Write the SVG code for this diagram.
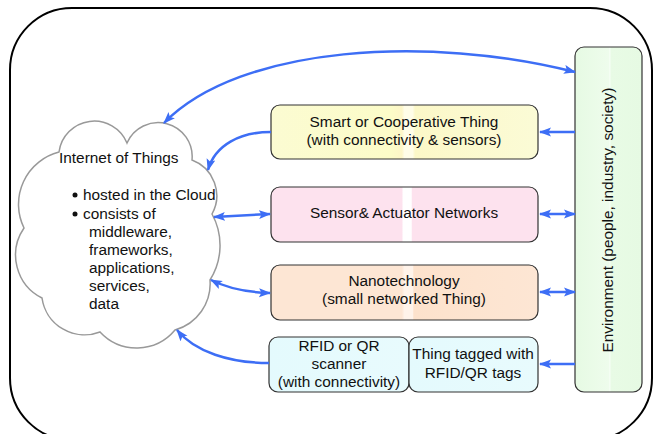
<svg xmlns="http://www.w3.org/2000/svg" width="659" height="434" viewBox="0 0 659 434">
<defs>
<style>
text{font-family:"Liberation Sans",Arial,sans-serif;font-size:15.4px;fill:#111}
.box{stroke:#333;stroke-width:1.2}
.conn{fill:none;stroke:#3d6ef5;stroke-width:2.5}
</style>
<marker id="ah" markerUnits="userSpaceOnUse" viewBox="0 0 12 10" refX="11" refY="5" markerWidth="12" markerHeight="10" orient="auto-start-reverse">
<path d="M0,0.5 L12,5 L0,9.5 L2.5,5 z" fill="#3d6ef5"/>
</marker>
<linearGradient id="gY" x1="0" x2="1" y1="0" y2="0">
<stop offset="0" stop-color="#fbfbd2"/><stop offset="0.45" stop-color="#fcfcc8"/><stop offset="0.49" stop-color="#fdf6c8"/><stop offset="0.5" stop-color="#fffde8"/><stop offset="0.53" stop-color="#fffde8"/><stop offset="0.54" stop-color="#fcf8c8"/><stop offset="1" stop-color="#fbfbd6"/>
</linearGradient>
<linearGradient id="gP" x1="0" x2="1" y1="0" y2="0">
<stop offset="0" stop-color="#fde2ee"/><stop offset="0.49" stop-color="#fde2ee"/><stop offset="0.495" stop-color="#ffffff"/><stop offset="0.525" stop-color="#ffffff"/><stop offset="0.53" stop-color="#fde2ee"/><stop offset="1" stop-color="#fde2ee"/>
</linearGradient>
<linearGradient id="gO" x1="0" x2="1" y1="0" y2="0">
<stop offset="0" stop-color="#fde6d4"/><stop offset="0.49" stop-color="#fde6d4"/><stop offset="0.5" stop-color="#fff3ea"/><stop offset="0.53" stop-color="#fff3ea"/><stop offset="0.535" stop-color="#fde2cc"/><stop offset="1" stop-color="#fde6d4"/>
</linearGradient>
<linearGradient id="gC" x1="0" x2="1" y1="0" y2="0">
<stop offset="0" stop-color="#e4fafd"/><stop offset="1" stop-color="#e8fbfd"/>
</linearGradient>
<linearGradient id="gG" x1="0" x2="1" y1="0" y2="0">
<stop offset="0" stop-color="#e6fae3"/><stop offset="0.5" stop-color="#eefcec"/><stop offset="0.52" stop-color="#f6fef5"/><stop offset="0.54" stop-color="#e8fbe5"/><stop offset="1" stop-color="#e6fae3"/>
</linearGradient>
</defs>
<rect width="659" height="434" fill="#ffffff"/>
<rect x="10" y="8" width="642" height="432" rx="62" ry="62" fill="none" stroke="#000" stroke-width="2"/>

<g id="cloud">
<path d="M59,152 A35.5,35.5 0 0 1 127,143 A34,34 0 0 1 192,160 A38,38 0 0 1 212,214 A65,65 0 0 1 210,280 A48,48 0 0 1 175,330 A50,50 0 0 1 100,332 A43,43 0 0 1 42,298 A48,48 0 0 1 24,228 A54,54 0 0 1 59,152 z" fill="#fff" stroke="#999" stroke-width="1.5"/>
<text x="59" y="163">Internet of Things</text>
<circle cx="75" cy="195" r="2.5" fill="#111"/>
<text x="83" y="200">hosted in the Cloud</text>
<circle cx="75" cy="214" r="2.5" fill="#111"/>
<text x="83" y="219">consists of</text>
<text x="89" y="237">middleware,</text>
<text x="89" y="255">frameworks,</text>
<text x="89" y="273">applications,</text>
<text x="89" y="291">services,</text>
<text x="89" y="309">data</text>
</g>

<g id="smart">
<rect class="box" x="271" y="105" width="267" height="54" rx="9" fill="url(#gY)"/>
<text x="404" y="127" text-anchor="middle">Smart or Cooperative Thing</text>
<text x="404" y="145" text-anchor="middle">(with connectivity &amp; sensors)</text>
</g>

<g id="sensor">
<rect class="box" x="271" y="187" width="267" height="55" rx="9" fill="url(#gP)"/>
<text x="404" y="218" text-anchor="middle">Sensor&amp; Actuator Networks</text>
</g>

<g id="nano">
<rect class="box" x="271" y="265" width="267" height="55" rx="9" fill="url(#gO)"/>
<text x="404" y="286" text-anchor="middle">Nanotechnology</text>
<text x="404" y="304" text-anchor="middle">(small networked Thing)</text>
</g>

<g id="scanner">
<rect class="box" x="269" y="337" width="140" height="55" rx="9" fill="url(#gC)"/>
<text x="339" y="351" text-anchor="middle">RFID or QR</text>
<text x="339" y="369" text-anchor="middle">scanner</text>
<text x="339" y="387" text-anchor="middle">(with connectivity)</text>
</g>

<g id="tagged">
<rect class="box" x="409" y="337" width="129" height="55" rx="9" fill="url(#gC)"/>
<text x="473" y="359" text-anchor="middle">Thing tagged with</text>
<text x="473" y="378" text-anchor="middle">RFID/QR tags</text>
</g>

<g id="environment">
<rect class="box" x="575" y="47" width="67" height="345" rx="9" fill="url(#gG)"/>
<text x="613" y="220" text-anchor="middle" transform="rotate(-90 613 220)">Environment (people, industry, society)</text>
</g>

<g id="connectors">
<path class="conn" d="M164,123 C240,45 430,35 575,72" marker-start="url(#ah)" marker-end="url(#ah)"/>
<path class="conn" d="M271,132 C240,132 215,145 208,170" marker-end="url(#ah)"/>
<path class="conn" d="M575,132 L540,132" marker-end="url(#ah)"/>
<path class="conn" d="M214,217 L270,214" marker-start="url(#ah)" marker-end="url(#ah)"/>
<path class="conn" d="M540,214 L575,214" marker-start="url(#ah)" marker-end="url(#ah)"/>
<path class="conn" d="M211,280 Q235,292 270,293" marker-start="url(#ah)" marker-end="url(#ah)"/>
<path class="conn" d="M540,292 L575,292" marker-start="url(#ah)" marker-end="url(#ah)"/>
<path class="conn" d="M269,363 C230,363 195,352 177,330" marker-end="url(#ah)"/>
<path class="conn" d="M575,364 L540,364" marker-end="url(#ah)"/>
</g>
</svg>
